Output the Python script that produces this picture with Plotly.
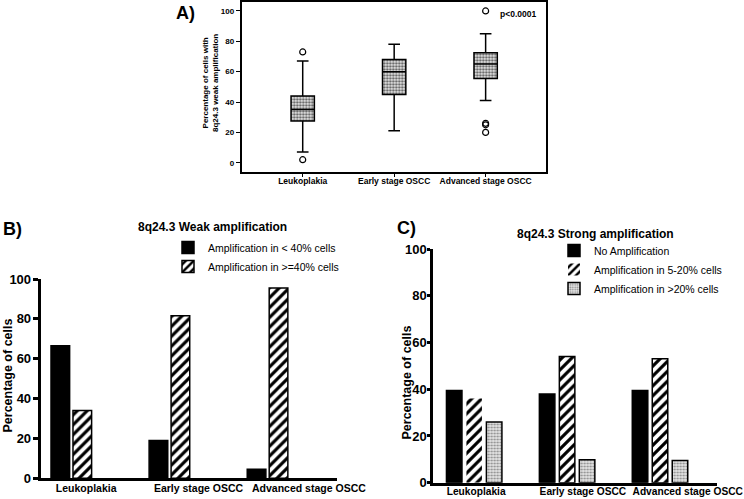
import plotly.graph_objects as go

W, H = 744, 499

categories = ["Leukoplakia", "Early stage OSCC", "Advanced stage OSCC"]

# Panel A: box plot statistics (% of cells with 8q24.3 weak amplification)
box_q1 = [27.5, 45, 55.5]
box_median = [35, 60, 65]
box_q3 = [44, 68, 72.5]
box_lower = [7, 21, 41]
box_upper = [67, 78, 85]
outlier_group = ["Leukoplakia", "Leukoplakia", "Advanced stage OSCC",
                 "Advanced stage OSCC", "Advanced stage OSCC", "Advanced stage OSCC"]
outlier_value = [73, 2, 100, 26, 25, 20]

# Panel B: weak amplification
weak_lt40 = [66.5, 19, 4.5]
weak_ge40 = [34, 81.5, 95.5]

# Panel C: strong amplification
strong_none = [39.5, 38, 39.5]
strong_5_20 = [36, 54, 53]
strong_gt20 = [26, 9.8, 9.5]

y_ticks = [0, 20, 40, 60, 80, 100]

FONT = "Arial, Liberation Sans, sans-serif"


def px_x(p):
    return p / W


def px_y(p):
    return 1 - p / H


fig = go.Figure()

# ---- Panel A ----
iqr = [q3 - q1 for q1, q3 in zip(box_q1, box_q3)]
fig.add_trace(go.Bar(
    x=categories, y=iqr, base=box_q1, width=0.255,
    marker=dict(color="#e4e4e4",
                pattern=dict(shape=".", fgcolor="#5a5a5a", bgcolor="#e8e8e8",
                             size=3, solidity=0.45),
                line=dict(width=0)),
    xaxis="x", yaxis="y", showlegend=False, hoverinfo="skip"))
fig.add_trace(go.Box(
    x=categories, q1=box_q1, median=box_median, q3=box_q3,
    lowerfence=box_lower, upperfence=box_upper,
    width=0.255, whiskerwidth=0.5, fillcolor="rgba(0,0,0,0)",
    line=dict(color="black", width=1.5), boxpoints=False,
    xaxis="x", yaxis="y", showlegend=False))
fig.add_trace(go.Scatter(
    x=outlier_group, y=outlier_value, mode="markers",
    marker=dict(symbol="circle-open", size=6, color="black", line=dict(width=1.2)),
    xaxis="x", yaxis="y", showlegend=False))

# ---- Panel B ----
wB = 0.19
sB = 0.224
fig.add_trace(go.Bar(
    x=categories, y=weak_lt40, width=wB, offset=-sB - wB / 2,
    marker=dict(color="black", line=dict(color="black", width=1.5)),
    name="Amplification in < 40% cells", xaxis="x2", yaxis="y2", legend="legend"))
fig.add_trace(go.Bar(
    x=categories, y=weak_ge40, width=wB, offset=-wB / 2,
    marker=dict(color="white",
                pattern=dict(shape="/", fgcolor="black", bgcolor="white", size=7, solidity=0.45),
                line=dict(color="black", width=1.5)),
    name="Amplification in >=40% cells", xaxis="x2", yaxis="y2", legend="legend"))

# ---- Panel C ----
wC = 0.167
sC = 0.215
fig.add_trace(go.Bar(
    x=categories, y=strong_none, width=wC, offset=-sC - wC / 2,
    marker=dict(color="black", line=dict(color="black", width=1.5)),
    name="No Amplification", xaxis="x3", yaxis="y3", legend="legend2"))
fig.add_trace(go.Bar(
    x=categories, y=strong_5_20, width=wC, offset=-wC / 2,
    marker=dict(color="white",
                pattern=dict(shape="/", fgcolor="black", bgcolor="white", size=7, solidity=0.45),
                line=dict(color="black", width=[0, 1.5, 1.5])),
    name="Amplification in 5-20% cells", xaxis="x3", yaxis="y3", legend="legend2"))
fig.add_trace(go.Bar(
    x=categories, y=strong_gt20, width=wC, offset=sC - wC / 2,
    marker=dict(color="#e6e6e6",
                pattern=dict(shape=".", fgcolor="#8a8a8a", bgcolor="#e6e6e6", size=3, solidity=0.4),
                line=dict(color="black", width=1.5)),
    name="Amplification in >20% cells", xaxis="x3", yaxis="y3", legend="legend2"))

bold = dict(family=FONT, color="black", weight="bold")

common = dict(showgrid=False, zeroline=False, automargin=False)

fig.update_layout(
    template="none",
    width=W, height=H,
    margin=dict(l=0, r=0, t=0, b=0, pad=0),
    paper_bgcolor="white", plot_bgcolor="white",
    barmode="overlay",
    font=dict(family=FONT, color="black"),
    xaxis=dict(domain=[px_x(241.7), px_x(546)], range=[-0.667, 2.66], anchor="y",
               type="category", showline=True, mirror=True, linewidth=2, linecolor="black",
               ticks="outside", ticklen=3, tickwidth=1, tickcolor="black", tickangle=0,
               ticklabelstandoff=-3,
               tickfont=dict(size=8.5, **bold), **common),
    yaxis=dict(domain=[px_y(172), px_y(2)], range=[-6.1, 105.9], anchor="x",
               tickvals=y_ticks, showline=True, mirror=True, linewidth=2, linecolor="black",
               ticks="outside", ticklen=4, tickwidth=1, tickcolor="black",
               tickfont=dict(size=8, **bold), **common),
    xaxis2=dict(domain=[px_x(40.7), px_x(337)], range=[-0.424, 2.596], anchor="y2",
                type="category", showline=True, linewidth=3, linecolor="black",
                ticks="", ticklabelposition="outside right", ticklabelshift=-28, tickangle=0,
                ticklabelstandoff=-2,
                tickfont=dict(size=10.5, **bold), **common),
    yaxis2=dict(domain=[px_y(478.3), px_y(279)], range=[0, 100], anchor="x2",
                tickvals=y_ticks, showline=True, linewidth=3, linecolor="black",
                ticks="outside", ticklen=5, tickwidth=2.5, tickcolor="black",
                ticklabelstandoff=-1,
                tickfont=dict(size=13, **bold), **common),
    xaxis3=dict(domain=[px_x(433.3), px_x(716.7)], range=[-0.44, 2.61], anchor="y3",
                type="category", showline=True, linewidth=3, linecolor="black",
                ticks="", ticklabelposition="outside right", ticklabelshift=-29, tickangle=0,
                ticklabelstandoff=-3,
                tickfont=dict(size=10.2, **bold), **common),
    yaxis3=dict(domain=[px_y(482.7), px_y(249)], range=[0, 100], anchor="x3",
                tickvals=y_ticks, showline=True, linewidth=3, linecolor="black",
                ticks="outside", ticklen=3, tickwidth=2.5, tickcolor="black",
                ticklabelstandoff=-2,
                tickfont=dict(size=13, **bold), **common),
    legend=dict(x=px_x(168), y=px_y(233), xanchor="left", yanchor="top",
                bgcolor="rgba(0,0,0,0)", font=dict(family=FONT, size=10.5, color="black"),
                tracegroupgap=0),
    legend2=dict(x=px_x(554), y=px_y(236), xanchor="left", yanchor="top",
                 bgcolor="rgba(0,0,0,0)", font=dict(family=FONT, size=10.5, color="black"),
                 tracegroupgap=0),
)

annotations = [
    dict(text="A)", x=px_x(185), y=px_y(13), font=dict(size=18, **bold)),
    dict(text="B)", x=px_x(12), y=px_y(228.5), font=dict(size=18, **bold)),
    dict(text="C)", x=px_x(407), y=px_y(228), font=dict(size=18, **bold)),
    dict(text="p<0.0001", x=px_x(518), y=px_y(14), font=dict(size=8.5, **bold)),
    dict(text="8q24.3 Weak amplification", x=px_x(212.5), y=px_y(226.7), font=dict(size=12, **bold)),
    dict(text="8q24.3 Strong amplification", x=px_x(595), y=px_y(234), font=dict(size=12, **bold)),
    dict(text="Percentage of cells with<br>8q24.3 weak amplification", x=px_x(210), y=px_y(83),
         textangle=-90, font=dict(size=8, **bold)),
    dict(text="Percentage of cells", x=px_x(7.5), y=px_y(376), textangle=-90,
         font=dict(size=12.5, **bold)),
    dict(text="Percentage of cells", x=px_x(406.5), y=px_y(383), textangle=-90,
         font=dict(size=12.5, **bold)),
]
for a in annotations:
    a.update(xref="paper", yref="paper", showarrow=False, xanchor="center", yanchor="middle")
fig.update_layout(annotations=annotations)

fig.write_html("out.html")
